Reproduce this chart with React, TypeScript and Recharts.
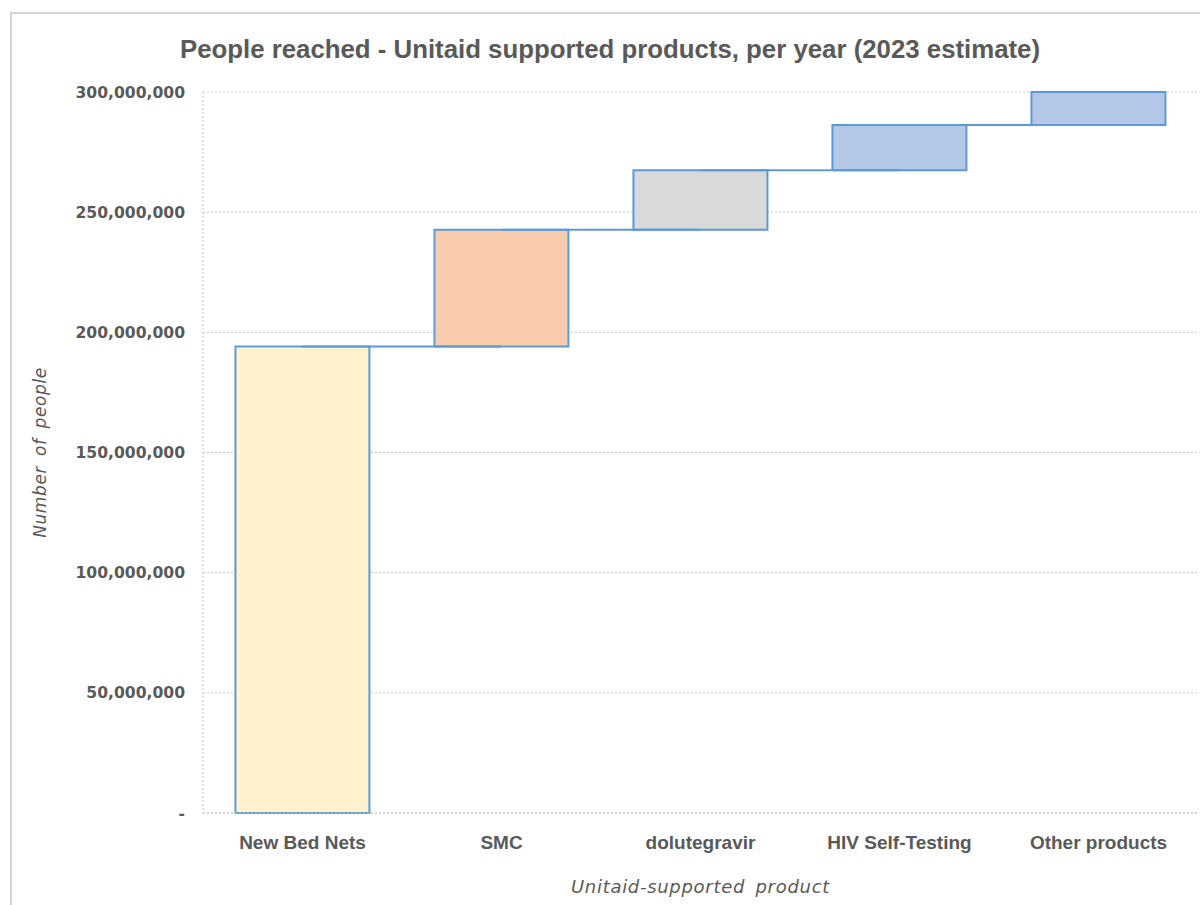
import {
  ComposedChart,
  Bar,
  Cell,
  XAxis,
  YAxis,
  CartesianGrid,
  ReferenceLine,
} from "recharts";

// ─────────────────────────────────────────
// DATA
// ─────────────────────────────────────────

const products = [
  "New Bed Nets",
  "SMC",
  "dolutegravir",
  "HIV Self-Testing",
  "Other products",
];

// people reached per product (increment on the waterfall)
const peopleReached = [194100000, 48600000, 24700000, 18900000, 13700000];

const yTicks = [0, 50000000, 100000000, 150000000, 200000000, 250000000, 300000000];

const barFills = ["#fff2cc", "#f8cbad", "#d9d9d9", "#b4c7e7", "#b4c7e7"];

// running totals -> invisible base + visible step
const totals = peopleReached.map((_, i) =>
  peopleReached.slice(0, i + 1).reduce((a, b) => a + b, 0)
);

const data = products.map((name, i) => ({
  name,
  base: i === 0 ? 0 : totals[i - 1],
  value: peopleReached[i],
}));

const TEXT = "#595959";
const BLUE = "#5b9bd5";
const SANS = "'Liberation Sans', sans-serif";
const DEJAVU = "'DejaVu Sans', sans-serif";

const formatTick = (v: number) => (v === 0 ? "-" : v.toLocaleString("en-US"));

// rotated y-axis title
const YTitle = ({ viewBox }: any) => {
  const x = viewBox.x + 40;
  const y = viewBox.y + viewBox.height / 2;
  return (
    <text
      x={x}
      y={y}
      transform={`rotate(-90 ${x} ${y})`}
      textAnchor="middle"
      dominantBaseline="central"
      fill={TEXT}
      fontFamily={DEJAVU}
      fontStyle="italic"
      fontSize={17}
      letterSpacing={0.6}
      wordSpacing={4}
    >
      Number of people
    </text>
  );
};

const XTitle = ({ viewBox }: any) => (
  <text
    x={viewBox.x + viewBox.width / 2}
    y={viewBox.y + 73}
    textAnchor="middle"
    dominantBaseline="central"
    fill={TEXT}
    fontFamily={DEJAVU}
    fontStyle="italic"
    fontSize={18}
    letterSpacing={0.7}
    wordSpacing={4}
  >
    Unitaid-supported product
  </text>
);

export default function App() {
  return (
    <div
      style={{
        position: "absolute",
        left: 0,
        top: 0,
        width: 1200,
        height: 905,
        overflow: "hidden",
        background: "#fff",
      }}
    >
      {/* chart frame */}
      <div
        style={{
          position: "absolute",
          left: 10,
          top: 12,
          width: 1300,
          height: 1000,
          borderLeft: "2px solid #d4d4d4",
          borderTop: "2px solid #d4d4d4",
        }}
      />

      {/* title */}
      <div
        style={{
          position: "absolute",
          left: 0,
          top: 32,
          width: 1220,
          textAlign: "center",
          fontFamily: SANS,
          fontWeight: "bold",
          fontSize: 25.8,
          color: TEXT,
          lineHeight: "34px",
        }}
      >
        People reached - Unitaid supported products, per year (2023 estimate)
      </div>

      <div style={{ position: "absolute", left: 0, top: 0 }}>
        <ComposedChart
          width={1200}
          height={905}
          data={data}
          margin={{ top: 92, right: 2, bottom: 0, left: 0 }}
          barCategoryGap="16.3%"
        >
          <CartesianGrid
            vertical={false}
            stroke="#c8c8c8"
            strokeDasharray="2 2"
          />
          <XAxis
            dataKey="name"
            height={92}
            axisLine={{ stroke: "#c8c8c8", strokeDasharray: "2 2" }}
            tickLine={false}
            tickMargin={17}
            tick={{
              fill: TEXT,
              fontFamily: SANS,
              fontWeight: "bold",
              fontSize: 19,
            }}
            label={<XTitle />}
          />
          <YAxis
            width={203}
            domain={[0, 300000000]}
            ticks={yTicks}
            interval={0}
            tickFormatter={formatTick}
            axisLine={{ stroke: "#c8c8c8", strokeDasharray: "2 2" }}
            tickLine={false}
            tickSize={0}
            tickMargin={18}
            tick={{
              fill: TEXT,
              fontFamily: DEJAVU,
              fontWeight: "bold",
              fontSize: 15.6,
            }}
            label={<YTitle />}
          />

          {/* connector lines between steps */}
          {products.slice(0, -1).map((p, i) => (
            <ReferenceLine
              key={p}
              segment={[
                { x: p, y: totals[i] },
                { x: products[i + 1], y: totals[i] },
              ]}
              stroke={BLUE}
              strokeWidth={2}
            />
          ))}

          <Bar
            dataKey="base"
            stackId="w"
            fill="transparent"
            isAnimationActive={false}
          />
          <Bar
            dataKey="value"
            stackId="w"
            stroke={BLUE}
            strokeWidth={2}
            isAnimationActive={false}
          >
            {data.map((d, i) => (
              <Cell key={d.name} fill={barFills[i]} />
            ))}
          </Bar>
        </ComposedChart>
      </div>
    </div>
  );
}
